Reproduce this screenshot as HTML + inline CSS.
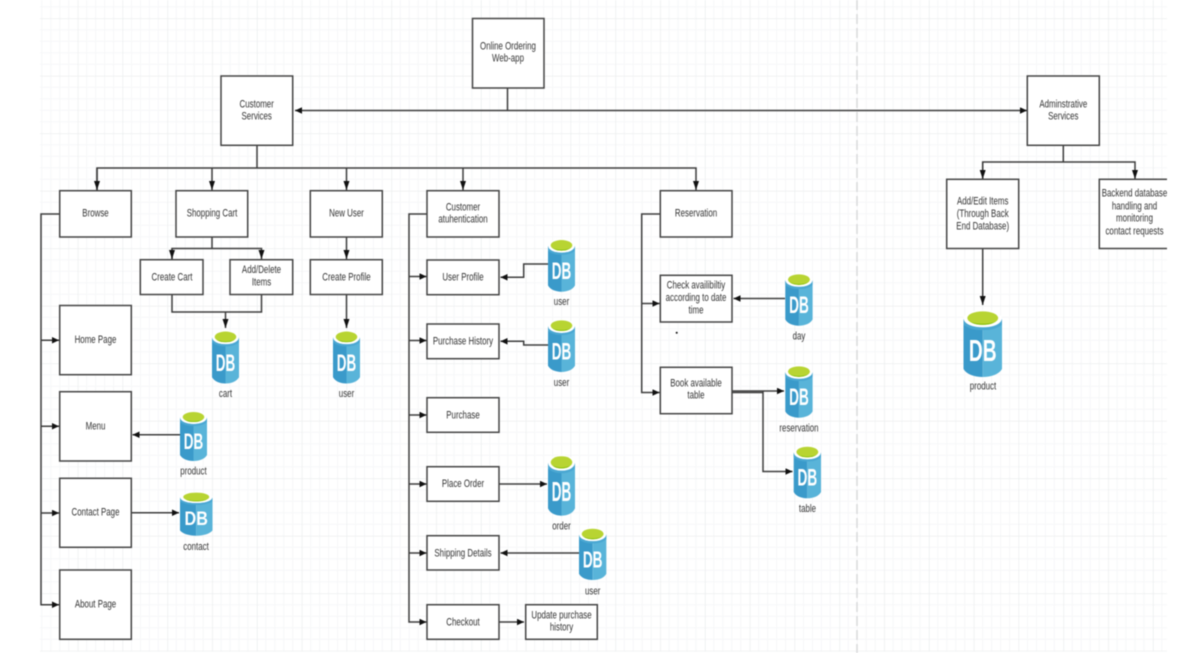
<!DOCTYPE html>
<html lang="en">
<head>
<meta charset="utf-8">
<title>Online Ordering Web-app</title>
<style>
html,body{margin:0;padding:0;background:#fff;width:1178px;height:653px;overflow:hidden}
svg{display:block;filter:blur(.55px)}
.b rect{fill:#fff;stroke:#444;stroke-width:1.5}
.c path{fill:none;stroke:#3d3d3d;stroke-width:1.5}
text{font-family:"Liberation Sans",sans-serif;font-size:11px;fill:#333;text-anchor:middle}
.db{font-size:45px;font-weight:bold;fill:#fff}
</style>
</head>
<body>
<svg width="1178" height="653" viewBox="0 0 1178 653" xmlns="http://www.w3.org/2000/svg">
<defs>
<pattern id="grid" patternUnits="userSpaceOnUse" x="32.9" y="18.3" width="44.8" height="57.5">
<path d="M8.96 0V57.5M17.92 0V57.5M26.88 0V57.5M35.84 0V57.5M0 11.5H44.8M0 23H44.8M0 34.5H44.8M0 46H44.8" fill="none" stroke="#f6f7f8" stroke-width="1"/>
<path d="M0 0V57.5M0 0H44.8" fill="none" stroke="#e9ebec" stroke-width="1.3"/>
</pattern>
<marker id="mv" markerUnits="userSpaceOnUse" orient="auto" markerWidth="10" markerHeight="7" refX="9" refY="3">
<path d="M0 0L9 3L0 6Z" fill="#111"/>
</marker>
<marker id="mh" markerUnits="userSpaceOnUse" orient="auto" markerWidth="8" markerHeight="8" refX="7" refY="3.25">
<path d="M0 0L7 3.25L0 6.5Z" fill="#111"/>
</marker>
<marker id="ms" markerUnits="userSpaceOnUse" orient="auto-start-reverse" markerWidth="8" markerHeight="8" refX="7" refY="3.25">
<path d="M0 0L7 3.25L0 6.5Z" fill="#111"/>
</marker>
<g id="cyl">
<path d="M0 13V88C8 96 28 100 50 100V13Z" fill="#3a9aca"/>
<path d="M100 13V88C92 96 72 100 50 100V13Z" fill="#59b4d9"/>
<ellipse cx="50" cy="13" rx="50" ry="13" fill="#fff"/>
<path d="M0 13C0 16 0 20 0 22C14 28 30 30 50 30C70 30 86 28 100 22V13C96 24 70 26 50 26C30 26 4 24 0 13Z" fill="#4aa7d2"/>
<ellipse cx="50" cy="12" rx="40" ry="10" fill="#b8d432"/>
<path d="M14 16C26 22 74 22 86 16C76 21 64 22 50 22C36 22 24 21 14 16Z" fill="#7fba00"/>
</g>
</defs>

<rect x="40" y="0" width="1127" height="651.5" fill="url(#grid)"/>
<path d="M857 0V653" stroke="#d9dadb" stroke-width="1.5" stroke-dasharray="10 4" fill="none"/>

<g class="c">
<path d="M507.5 88V110.5"/>
<path d="M295 110.5H1027" marker-start="url(#ms)" marker-end="url(#ms)"/>
<path d="M257 145V168"/>
<path d="M97 190V168H696V190" marker-end="url(#mv)"/>
<path d="M97 168V190" marker-end="url(#mv)"/>
<path d="M212 168V190" marker-end="url(#mv)"/>
<path d="M346.500 168V190" marker-end="url(#mv)"/>
<path d="M463 168V190" marker-end="url(#mv)"/>
<path d="M212 237V248.500"/>
<path d="M172 259V248.500H261.500V259" marker-end="url(#mv)"/>
<path d="M172 248.500V259" marker-end="url(#mv)"/>
<path d="M346.500 237V259" marker-end="url(#mv)"/>
<path d="M172 294.500V312H261.500V294.500"/>
<path d="M225.500 312V328" marker-end="url(#mv)"/>
<path d="M346.500 294.500V328" marker-end="url(#mv)"/>

<path d="M59.700 214H41V604.700H59" marker-end="url(#mh)"/>
<path d="M41 340.300H59" marker-end="url(#mh)"/>
<path d="M41 426.300H59" marker-end="url(#mh)"/>
<path d="M41 513H59" marker-end="url(#mh)"/>
<path d="M180 434.700H132.500" marker-end="url(#mh)"/>
<path d="M131.500 512.700H179" marker-end="url(#mh)"/>

<path d="M427 214H409V622H426.500" marker-end="url(#mh)"/>
<path d="M409 276.500H426.500" marker-end="url(#mh)"/>
<path d="M409 340.500H426.500" marker-end="url(#mh)"/>
<path d="M409 415H426.500" marker-end="url(#mh)"/>
<path d="M409 484H426.500" marker-end="url(#mh)"/>
<path d="M409 553H426.500" marker-end="url(#mh)"/>
<path d="M548 264H523.700V277.300H500.500" marker-end="url(#mh)"/>
<path d="M548 345H523.700V341.300H500.500" marker-end="url(#mh)"/>
<path d="M499 484H547" marker-end="url(#mh)"/>
<path d="M579 553H500.500" marker-end="url(#mh)"/>
<path d="M499 622H524" marker-end="url(#mh)"/>

<path d="M660.300 214H641.700V392.500H659.500" marker-end="url(#mh)"/>
<path d="M641.700 303.500H659.500" marker-end="url(#mh)"/>
<path d="M785 298.500H733.500" marker-end="url(#mh)"/>
<path d="M732 391H784" marker-end="url(#mh)"/>
<path d="M732 392.500H763"/>
<path d="M763 391V471.500H792.500" marker-end="url(#mh)"/>

<path d="M1063.300 145V162"/>
<path d="M982.700 179V162H1135V179" marker-end="url(#mv)"/>
<path d="M982.700 162V179" marker-end="url(#mv)"/>
<path d="M982.700 248.500V305" marker-end="url(#mv)"/>
</g>

<g class="b">
<rect x="472.500" y="18.500" width="71.500" height="69.500"/>
<rect x="221" y="76" width="71.700" height="69.300"/>
<rect x="1027.300" y="76" width="72" height="69.300"/>
<rect x="59.700" y="190.700" width="71.600" height="46.300"/>
<rect x="176" y="190.700" width="71.700" height="46.300"/>
<rect x="310.300" y="190.700" width="72" height="46.300"/>
<rect x="427" y="190.700" width="72" height="46.300"/>
<rect x="660.300" y="190.700" width="71.700" height="46.300"/>
<rect x="140.300" y="259.700" width="62.700" height="34.800"/>
<rect x="230" y="259.700" width="62.700" height="34.800"/>
<rect x="310.300" y="259.700" width="72" height="34.800"/>
<rect x="59.700" y="305.500" width="71.600" height="69.200"/>
<rect x="59.700" y="391.700" width="71.600" height="69.300"/>
<rect x="59.700" y="478.300" width="71.600" height="69"/>
<rect x="59.700" y="570" width="71.600" height="69.300"/>
<rect x="427" y="260" width="72" height="34.700"/>
<rect x="427" y="324" width="72" height="34.700"/>
<rect x="427" y="397.700" width="72" height="34.600"/>
<rect x="427" y="466.700" width="72" height="34.600"/>
<rect x="427" y="535.700" width="72" height="34.300"/>
<rect x="427" y="604.700" width="72" height="34.600"/>
<rect x="525.700" y="604.700" width="71.600" height="34.600"/>
<rect x="660.300" y="275.300" width="71.700" height="46.700"/>
<rect x="660.300" y="367.300" width="71.700" height="46.400"/>
<rect x="946.700" y="179.300" width="72" height="69.200"/>
<rect x="1099.300" y="179.300" width="90" height="69.200"/>
</g>
<rect x="1167" y="0" width="11" height="653" fill="#fff"/>
<circle cx="676.700" cy="332.700" r="1" fill="#111"/>

<g transform="translate(212,330.500) scale(.27,.53)"><use href="#cyl"/><text class="db" x="50" y="76" textLength="72" lengthAdjust="spacingAndGlyphs">DB</text></g>
<g transform="translate(333,330.500) scale(.27,.53)"><use href="#cyl"/><text class="db" x="50" y="76" textLength="72" lengthAdjust="spacingAndGlyphs">DB</text></g>
<g transform="translate(180,411) scale(.27,.5)"><use href="#cyl"/><text class="db" x="50" y="76" textLength="72" lengthAdjust="spacingAndGlyphs">DB</text></g>
<g transform="translate(180,491.700) scale(.325,.44)"><use href="#cyl"/><text class="db" x="50" y="76" textLength="72" lengthAdjust="spacingAndGlyphs">DB</text></g>
<g transform="translate(548,239) scale(.27,.527)"><use href="#cyl"/><text class="db" x="50" y="76" textLength="72" lengthAdjust="spacingAndGlyphs">DB</text></g>
<g transform="translate(548,319.300) scale(.27,.527)"><use href="#cyl"/><text class="db" x="50" y="76" textLength="72" lengthAdjust="spacingAndGlyphs">DB</text></g>
<g transform="translate(548,455) scale(.27,.607)"><use href="#cyl"/><text class="db" x="50" y="76" textLength="72" lengthAdjust="spacingAndGlyphs">DB</text></g>
<g transform="translate(579,527.700) scale(.273,.523)"><use href="#cyl"/><text class="db" x="50" y="76" textLength="72" lengthAdjust="spacingAndGlyphs">DB</text></g>
<g transform="translate(785.300,273.300) scale(.273,.524)"><use href="#cyl"/><text class="db" x="50" y="76" textLength="72" lengthAdjust="spacingAndGlyphs">DB</text></g>
<g transform="translate(785.300,365.300) scale(.273,.524)"><use href="#cyl"/><text class="db" x="50" y="76" textLength="72" lengthAdjust="spacingAndGlyphs">DB</text></g>
<g transform="translate(793.700,445.700) scale(.273,.526)"><use href="#cyl"/><text class="db" x="50" y="76" textLength="72" lengthAdjust="spacingAndGlyphs">DB</text></g>
<g transform="translate(963.500,310) scale(.385,.67)"><use href="#cyl"/><text class="db" x="50" y="76" textLength="72" lengthAdjust="spacingAndGlyphs">DB</text></g>

<g transform="translate(0,-.6)">
<text transform="translate(508,50) scale(.72,1)">Online Ordering</text>
<text transform="translate(508,62) scale(.72,1)">Web-app</text>
<text transform="translate(256.700,108) scale(.72,1)">Customer</text>
<text transform="translate(256.700,120.300) scale(.72,1)">Services</text>
<text transform="translate(1063.300,108) scale(.72,1)">Adminstrative</text>
<text transform="translate(1063.300,120.300) scale(.72,1)">Services</text>
<text transform="translate(95.500,217) scale(.72,1)">Browse</text>
<text transform="translate(212,217) scale(.72,1)">Shopping Cart</text>
<text transform="translate(346.500,217) scale(.72,1)">New User</text>
<text transform="translate(463,211) scale(.72,1)">Customer</text>
<text transform="translate(463,223) scale(.72,1)">atuhentication</text>
<text transform="translate(696,217) scale(.72,1)">Reservation</text>
<text transform="translate(172,281) scale(.72,1)">Create Cart</text>
<text transform="translate(261.500,273.500) scale(.72,1)">Add/Delete</text>
<text transform="translate(261.500,286) scale(.72,1)">Items</text>
<text transform="translate(346.500,281) scale(.72,1)">Create Profile</text>
<text transform="translate(95.500,343.500) scale(.72,1)">Home Page</text>
<text transform="translate(95.500,430) scale(.72,1)">Menu</text>
<text transform="translate(95.500,516) scale(.72,1)">Contact Page</text>
<text transform="translate(95.500,608) scale(.72,1)">About Page</text>
<text transform="translate(463,281) scale(.72,1)">User Profile</text>
<text transform="translate(463,345) scale(.72,1)">Purchase History</text>
<text transform="translate(463,419) scale(.72,1)">Purchase</text>
<text transform="translate(463,487.500) scale(.72,1)">Place Order</text>
<text transform="translate(463,557) scale(.72,1)">Shipping Details</text>
<text transform="translate(463,626) scale(.72,1)">Checkout</text>
<text transform="translate(561.500,619) scale(.72,1)">Update purchase</text>
<text transform="translate(561.500,631) scale(.72,1)">history</text>
<text transform="translate(696,289) scale(.72,1)">Check availibiltiy</text>
<text transform="translate(696,301.500) scale(.72,1)">according to date</text>
<text transform="translate(696,314) scale(.72,1)">time</text>
<text transform="translate(696,387) scale(.72,1)">Book available</text>
<text transform="translate(696,399) scale(.72,1)">table</text>
<text transform="translate(982.700,205) scale(.72,1)">Add/Edit Items</text>
<text transform="translate(982.700,217.500) scale(.72,1)">(Through Back</text>
<text transform="translate(982.700,230) scale(.72,1)">End Database)</text>
<text transform="translate(1134.500,197) scale(.72,1)">Backend database</text>
<text transform="translate(1134.500,210) scale(.72,1)">handling and</text>
<text transform="translate(1134.500,222) scale(.72,1)">monitoring</text>
<text transform="translate(1134.500,235) scale(.72,1)">contact requests</text>
<text transform="translate(225.500,397.500) scale(.72,1)">cart</text>
<text transform="translate(346.500,397.500) scale(.72,1)">user</text>
<text transform="translate(193.500,475) scale(.72,1)">product</text>
<text transform="translate(196,550.500) scale(.72,1)">contact</text>
<text transform="translate(561.500,305.500) scale(.72,1)">user</text>
<text transform="translate(561.500,386.500) scale(.72,1)">user</text>
<text transform="translate(561.500,530) scale(.72,1)">order</text>
<text transform="translate(592.700,595) scale(.72,1)">user</text>
<text transform="translate(799,340) scale(.72,1)">day</text>
<text transform="translate(799,432) scale(.72,1)">reservation</text>
<text transform="translate(807.500,512.500) scale(.72,1)">table</text>
<text transform="translate(983,390) scale(.72,1)">product</text>
</g>
</svg>
</body>
</html>
